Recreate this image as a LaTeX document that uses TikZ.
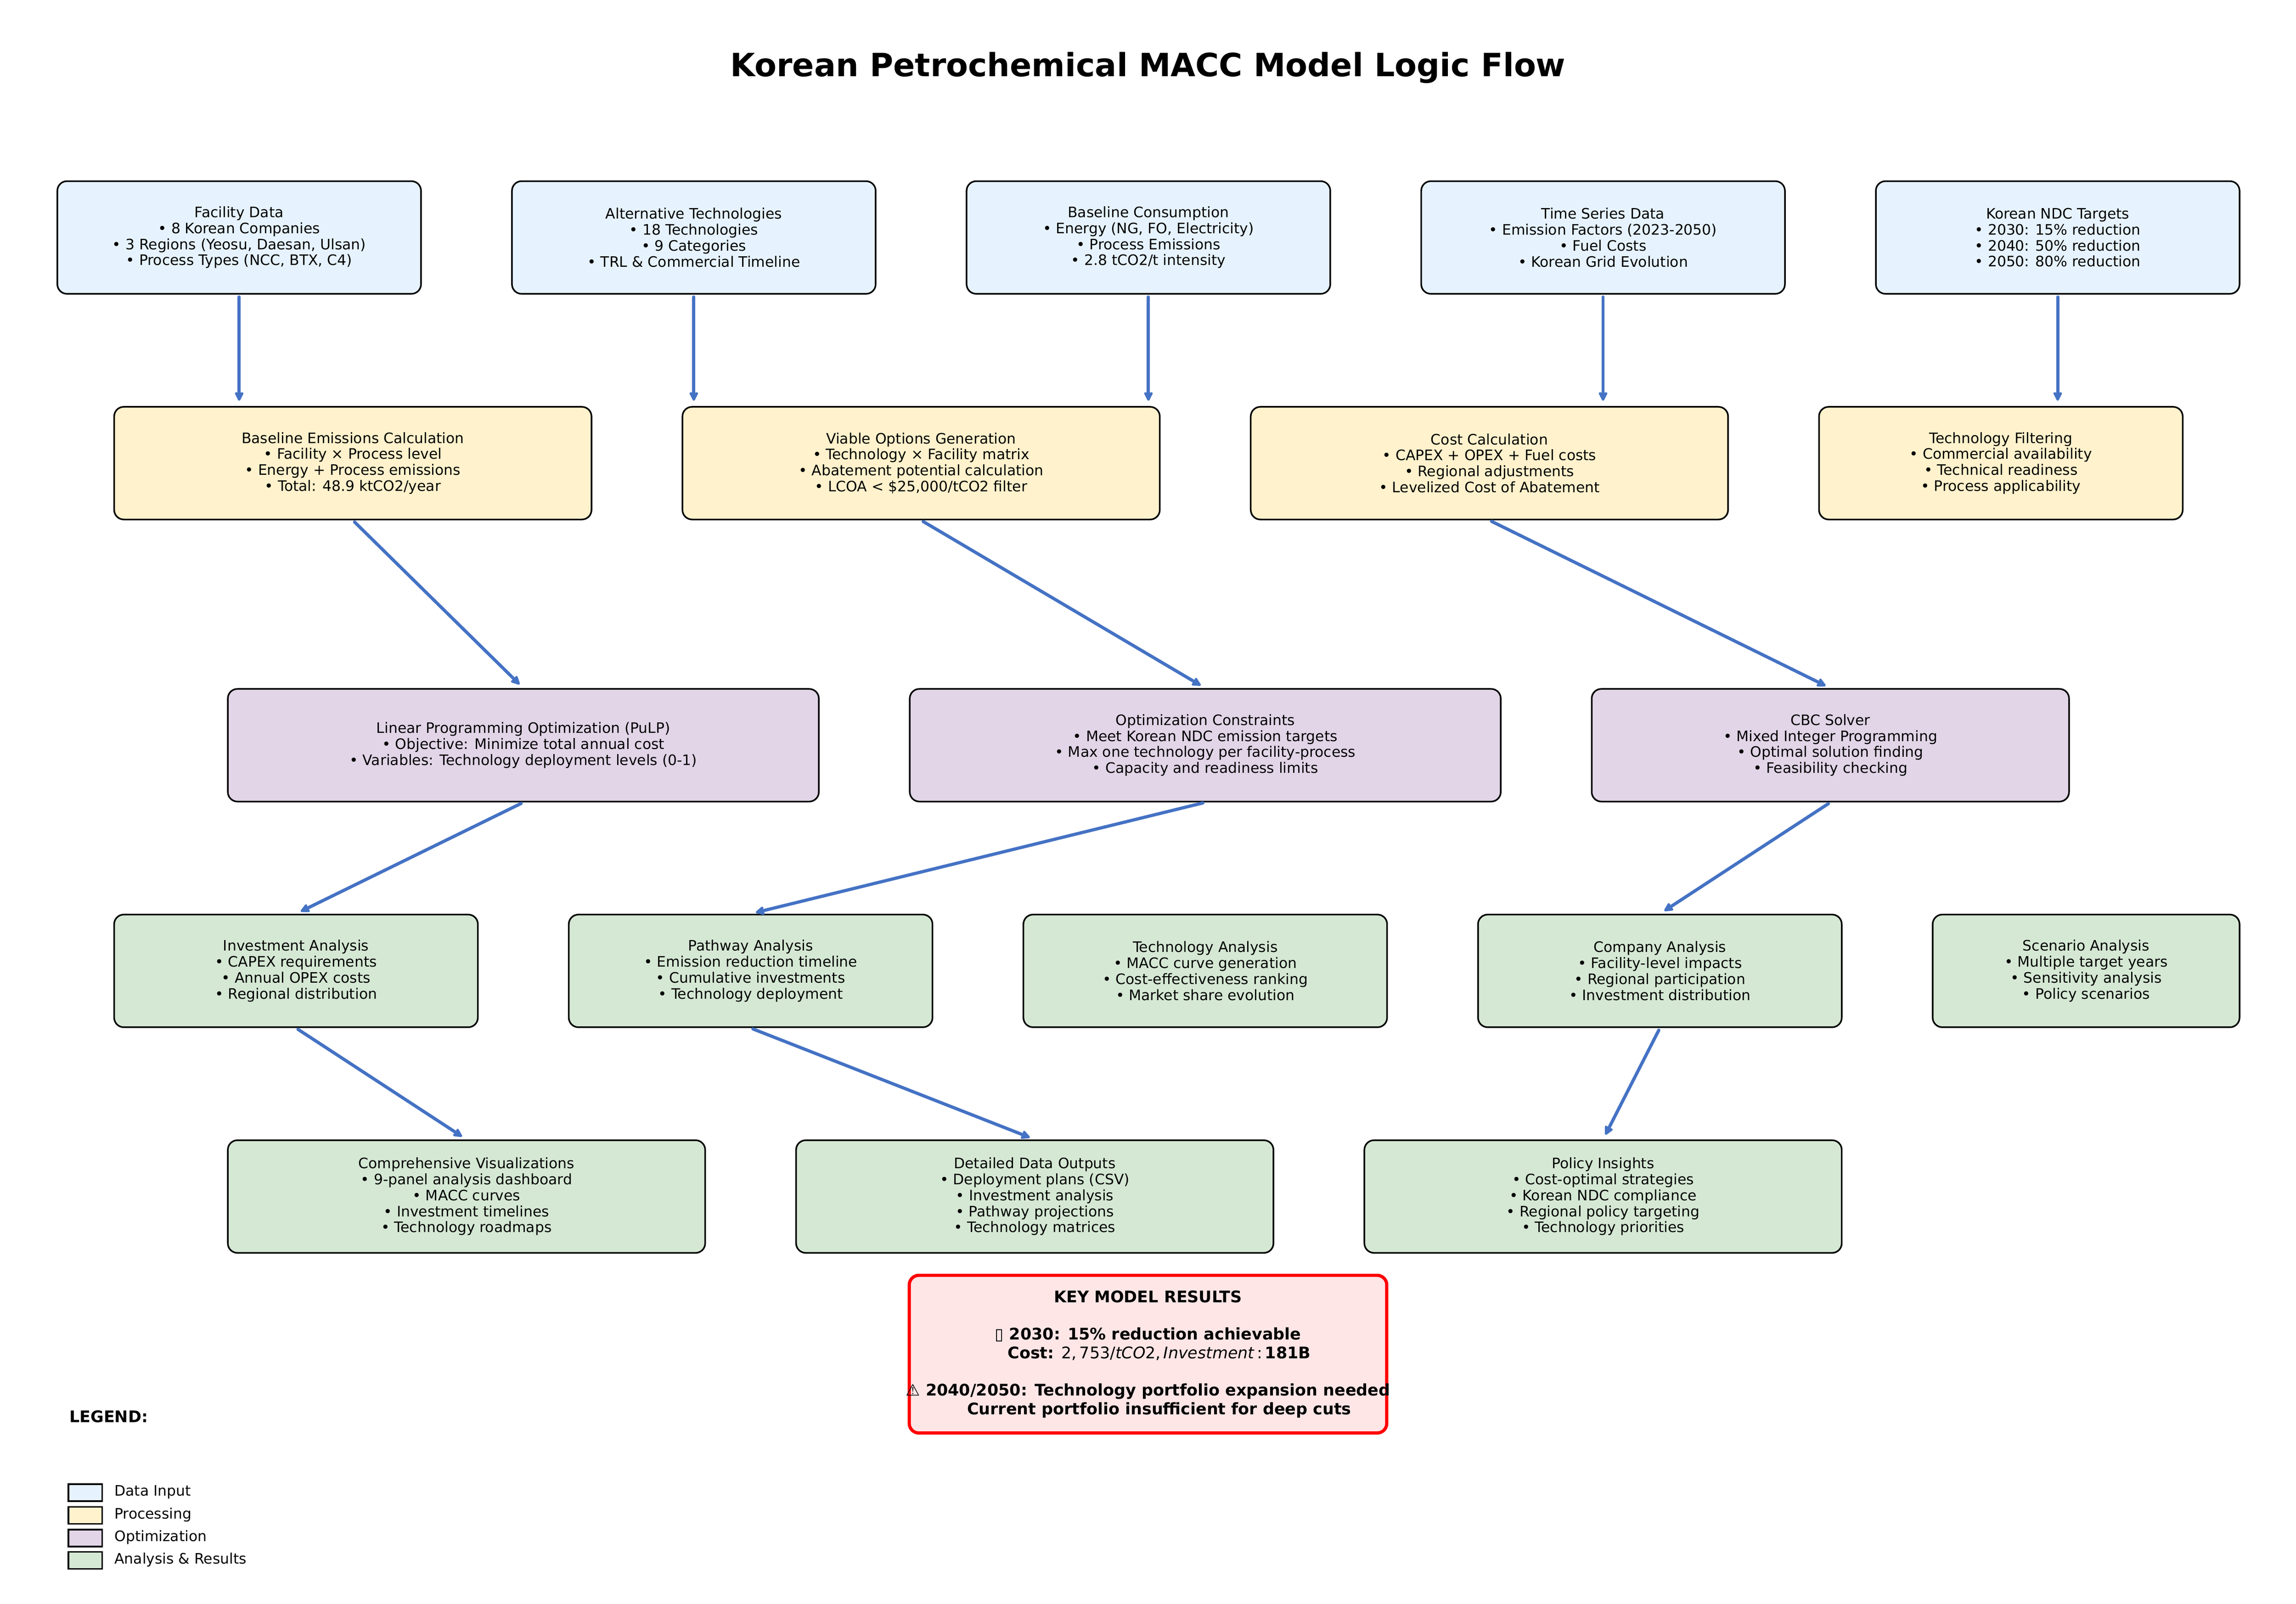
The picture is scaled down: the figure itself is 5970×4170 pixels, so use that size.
\documentclass[tikz,border=0pt]{standalone}
\usepackage{fontspec}
\setmainfont{DejaVu Sans}
\usetikzlibrary{arrows.meta}
\definecolor{inputc}{HTML}{E6F3FF}
\definecolor{procc}{HTML}{FFF2CC}
\definecolor{optc}{HTML}{E1D5E7}
\definecolor{anac}{HTML}{D5E8D4}
\definecolor{resc}{HTML}{FFE6E6}
\definecolor{arrowc}{HTML}{4472C4}
\tikzset{
  flowbox/.style={draw=black,line width=1pt,rounded corners=6pt,inner sep=0pt,align=center,
    minimum height=70.3pt,anchor=north west,font=\fontsize{9}{9.96}\selectfont},
  inputbox/.style={flowbox,fill=inputc},
  procbox/.style={flowbox,fill=procc},
  optbox/.style={flowbox,fill=optc},
  anabox/.style={flowbox,fill=anac},
  resultbox/.style={draw=red,line width=2pt,rounded corners=6pt,fill=resc,inner sep=0pt,align=center,
    minimum width=298pt,minimum height=98.4pt,font=\fontsize{10}{11.64}\selectfont\bfseries},
  flowarrow/.style={draw=arrowc,line width=2pt,line cap=round,shorten <=1.5pt,shorten >=3.3pt,
    -{Stealth[length=6.5pt,width=6.3pt,inset=0.8pt,round]}},
  legbox/.style={draw=black,line width=1pt,inner sep=0pt,minimum width=21.1pt,minimum height=10.6pt},
  legtext/.style={anchor=base west,inner sep=0pt,font=\fontsize{9}{9.96}\selectfont},
}
\newcommand{\bx}[6]{\node[#1,minimum width={#5*56.74pt}] (#2) at ({147+236.42*#3},{469+234.7*#4}) {#6};}
\begin{document}
\begin{tikzpicture}[x=0.24pt,y=-0.24pt]
\useasboundingbox (0,0) rectangle (5970,4170);
\node[inner sep=0pt,font=\fontsize{20}{24}\selectfont\bfseries] (title) at (2985,176) {Korean Petrochemical MACC Model Logic Flow};

\bx{inputbox}{fac}{0}{0}{4}{Facility Data\\• 8 Korean Companies\\• 3 Regions (Yeosu, Daesan, Ulsan)\\• Process Types (NCC, BTX, C4)}
\bx{inputbox}{alt}{5}{0}{4}{Alternative Technologies\\• 18 Technologies\\• 9 Categories\\• TRL \& Commercial Timeline}
\bx{inputbox}{base}{10}{0}{4}{Baseline Consumption\\• Energy (NG, FO, Electricity)\\• Process Emissions\\• 2.8 tCO2/t intensity}
\bx{inputbox}{time}{15}{0}{4}{Time Series Data\\• Emission Factors (2023-2050)\\• Fuel Costs\\• Korean Grid Evolution}
\bx{inputbox}{ndc}{20}{0}{4}{Korean NDC Targets\\• 2030: 15\% reduction\\• 2040: 50\% reduction\\• 2050: 80\% reduction}

\bx{procbox}{emis}{0.625}{2.5}{5.25}{Baseline Emissions Calculation\\• Facility × Process level\\• Energy + Process emissions\\• Total: 48.9 ktCO2/year}
\bx{procbox}{viable}{6.875}{2.5}{5.25}{Viable Options Generation\\• Technology × Facility matrix\\• Abatement potential calculation\\• LCOA < \$25,000/tCO2 filter}
\bx{procbox}{cost}{13.125}{2.5}{5.25}{Cost Calculation\\• CAPEX + OPEX + Fuel costs\\• Regional adjustments\\• Levelized Cost of Abatement}
\bx{procbox}{filter}{19.375}{2.5}{4}{Technology Filtering\\• Commercial availability\\• Technical readiness\\• Process applicability}

\bx{optbox}{lp}{1.875}{5.625}{6.5}{Linear Programming Optimization (PuLP)\\• Objective: Minimize total annual cost\\• Variables: Technology deployment levels (0-1)}
\bx{optbox}{cons}{9.375}{5.625}{6.5}{Optimization Constraints\\• Meet Korean NDC emission targets\\• Max one technology per facility-process\\• Capacity and readiness limits}
\bx{optbox}{cbc}{16.875}{5.625}{5.25}{CBC Solver\\• Mixed Integer Programming\\• Optimal solution finding\\• Feasibility checking}

\bx{anabox}{inv}{0.625}{8.125}{4}{Investment Analysis\\• CAPEX requirements\\• Annual OPEX costs\\• Regional distribution}
\bx{anabox}{path}{5.625}{8.125}{4}{Pathway Analysis\\• Emission reduction timeline\\• Cumulative investments\\• Technology deployment}
\bx{anabox}{tech}{10.625}{8.125}{4}{Technology Analysis\\• MACC curve generation\\• Cost-effectiveness ranking\\• Market share evolution}
\bx{anabox}{comp}{15.625}{8.125}{4}{Company Analysis\\• Facility-level impacts\\• Regional participation\\• Investment distribution}
\bx{anabox}{scen}{20.625}{8.125}{3.375}{Scenario Analysis\\• Multiple target years\\• Sensitivity analysis\\• Policy scenarios}

\bx{anabox}{vis}{1.875}{10.625}{5.25}{Comprehensive Visualizations\\• 9-panel analysis dashboard\\• MACC curves\\• Investment timelines\\• Technology roadmaps}
\bx{anabox}{data}{8.125}{10.625}{5.25}{Detailed Data Outputs\\• Deployment plans (CSV)\\• Investment analysis\\• Pathway projections\\• Technology matrices}
\bx{anabox}{pol}{14.375}{10.625}{5.25}{Policy Insights\\• Cost-optimal strategies\\• Korean NDC compliance\\• Regional policy targeting\\• Technology priorities}

\node[resultbox] (res) at (2985,3521) {KEY MODEL RESULTS\\[11.64pt]▯ 2030: 15\% reduction achievable\\\hspace*{14pt}Cost: {\mdseries 2,\,753/\itshape tCO\upshape 2,\,\itshape Investment\upshape\,:\,}181B\\[11.64pt]\makebox[0pt][c]{⚠ 2040/2050: Technology portfolio expansion needed}\\\hspace*{14pt}Current portfolio insufficient for deep cuts};

\node[anchor=base west,inner sep=0pt,font=\fontsize{10}{12}\selectfont\bfseries] (legt) at (180,3698) {LEGEND:};
\node[legbox,fill=inputc] (l1) at (222,3881) {};
\node[legbox,fill=procc] (l2) at (222,3940) {};
\node[legbox,fill=optc] (l3) at (222,3999) {};
\node[legbox,fill=anac] (l4) at (222,4057) {};
\node[legtext] (lt1) at (297,3890) {Data Input};
\node[legtext] (lt2) at (297,3949) {Processing};
\node[legtext] (lt3) at (297,4008) {Optimization};
\node[legtext] (lt4) at (297,4066) {Analysis \& Results};

\draw[flowarrow] (fac.south) -- (fac.south |- emis.north);
\draw[flowarrow] (alt.south) -- (alt.south |- viable.north);
\draw[flowarrow] (base.south) -- (base.south |- viable.north);
\draw[flowarrow] (time.south) -- (time.south |- cost.north);
\draw[flowarrow] (ndc.south) -- (ndc.south |- filter.north);
\draw[flowarrow] (emis.south) -- (lp.north);
\draw[flowarrow] (viable.south) -- (cons.north);
\draw[flowarrow] (cost.south) -- (cbc.north);
\draw[flowarrow] (lp.south) -- (inv.north);
\draw[flowarrow] (cons.south) -- (path.north);
\draw[flowarrow] (cbc.south) -- (comp.north);
\draw[flowarrow] (inv.south) -- (vis.north);
\draw[flowarrow] (path.south) -- (data.north);
\draw[flowarrow] (comp.south) -- (pol.north);
\end{tikzpicture}
\end{document}
